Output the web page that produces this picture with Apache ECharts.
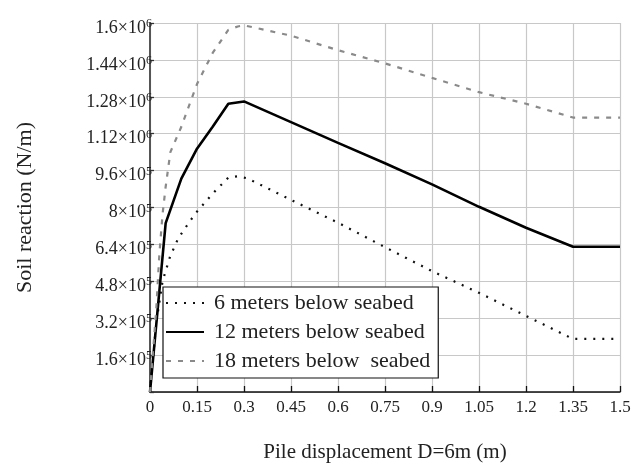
<!DOCTYPE html>
<html>
<head>
<meta charset="utf-8">
<script src="https://cdn.jsdelivr.net/npm/echarts@6/dist/echarts.min.js"></script>
<style>html,body{margin:0;padding:0;background:#fff}#c{width:635px;height:464px}</style>
</head>
<body>
<div id="c"></div>
<script>
// Data
const seriesNames = ['6 meters below seabed', '12 meters below seabed', '18 meters below  seabed'];
const x6  = [0, 0.02, 0.04, 0.064, 0.09, 0.128, 0.15, 0.2, 0.25, 0.28, 0.31, 0.45, 0.6, 0.75, 0.9, 1.05, 1.2, 1.35, 1.5];
const y6  = [0, 300000, 480000, 587000, 666000, 742000, 782000, 860000, 930000, 935000, 927000, 833000, 734000, 628000, 524000, 430000, 330000, 230000, 230000];
const x12 = [0, 0.05, 0.1, 0.15, 0.2, 0.25, 0.3, 0.45, 0.6, 0.75, 0.9, 1.05, 1.2, 1.35, 1.5];
const y12 = [0, 732000, 925000, 1055000, 1150000, 1250000, 1260000, 1170000, 1080000, 992000, 900000, 803000, 712000, 630000, 630000];
const x18 = [0, 0.02, 0.03, 0.04, 0.05, 0.065, 0.1, 0.15, 0.2, 0.25, 0.28, 0.3, 0.45, 0.6, 0.75, 0.9, 1.05, 1.2, 1.35, 1.5];
const y18 = [0, 360000, 600000, 770000, 890000, 1040000, 1150000, 1335000, 1470000, 1570000, 1585000, 1590000, 1545000, 1482000, 1425000, 1362000, 1300000, 1250000, 1190000, 1190000];
const xTicks = ['0', '0.15', '0.3', '0.45', '0.6', '0.75', '0.9', '1.05', '1.2', '1.35', '1.5'];
const yTickLabels = {160000:['1.6','5'],320000:['3.2','5'],480000:['4.8','5'],640000:['6.4','5'],800000:['8','5'],960000:['9.6','5'],1120000:['1.12','6'],1280000:['1.28','6'],1440000:['1.44','6'],1600000:['1.6','6']};

const zip = (xs, ys) => xs.map((x, i) => [x, ys[i]]);
const FONT = '"Liberation Serif", "DejaVu Serif", serif';

const chart = echarts.init(document.getElementById('c'));
chart.setOption({
  animation: false,
  backgroundColor: '#fff',
  grid: { left: 150, right: 15, top: 23, bottom: 72, outerBoundsMode: 'none', containLabel: false },
  xAxis: {
    type: 'value', min: 0, max: 1.5, interval: 0.15,
    name: 'Pile displacement D=6m (m)', nameLocation: 'middle', nameGap: 50,
    nameTextStyle: { fontFamily: FONT, fontSize: 21, color: '#222' },
    axisLine: { show: true, lineStyle: { color: '#111', width: 1.5 } },
    axisTick: { show: true, inside: true, length: 6, lineStyle: { color: '#111', width: 1.3 } },
    axisLabel: { fontFamily: FONT, fontSize: 17, color: '#222', margin: 7,
      formatter: (v) => xTicks[Math.round(v / 0.15)] },
    splitLine: { show: true, lineStyle: { color: '#c8c8c8', width: 1.2 } }
  },
  yAxis: {
    type: 'value', min: 0, max: 1600000, interval: 160000,
    name: 'Soil reaction (N/m)', nameLocation: 'middle', nameGap: 114,
    nameTextStyle: { fontFamily: FONT, fontSize: 22, color: '#222' },
    axisLine: { show: true, lineStyle: { color: '#555', width: 2 } },
    axisTick: { show: true, inside: true, length: 4, lineStyle: { color: '#333', width: 1.3 } },
    axisLabel: {
      margin: -2, padding: [10, 0, 0, 0],
      formatter: (v) => { const t = yTickLabels[Math.round(v)]; return t ? '{b|' + t[0] + '×10}{s|' + t[1] + '}' : ''; },
      rich: {
        b: { fontFamily: FONT, fontSize: 18, color: '#222', lineHeight: 20 },
        s: { fontFamily: FONT, fontSize: 12, color: '#222', verticalAlign: 'top', lineHeight: 12 }
      }
    },
    splitLine: { show: true, lineStyle: { color: '#c8c8c8', width: 1.2 } }
  },
  legend: {
    orient: 'vertical', left: 163, top: 287,
    backgroundColor: '#fff', borderColor: '#111', borderWidth: 1.2,
    padding: [5, 8, 6, 2], itemGap: 7, itemWidth: 38, itemHeight: 14,
    itemStyle: { opacity: 0 },
    textStyle: { fontFamily: FONT, fontSize: 22, color: '#222', lineHeight: 22, padding: [0, 0, 0, 5] },
    data: seriesNames
  },
  series: [
    { name: seriesNames[0], type: 'line', data: zip(x6, y6), symbol: 'none',
      lineStyle: { color: '#111', width: 2.2, type: [2, 7] }, itemStyle: { color: '#111' } },
    { name: seriesNames[1], type: 'line', data: zip(x12, y12), symbol: 'none',
      lineStyle: { color: '#000', width: 2.6, type: 'solid' }, itemStyle: { color: '#000' } },
    { name: seriesNames[2], type: 'line', data: zip(x18, y18), symbol: 'none',
      lineStyle: { color: '#8a8a8a', width: 2.2, type: [5, 7] }, itemStyle: { color: '#8a8a8a' } }
  ]
});
</script>
</body>
</html>
